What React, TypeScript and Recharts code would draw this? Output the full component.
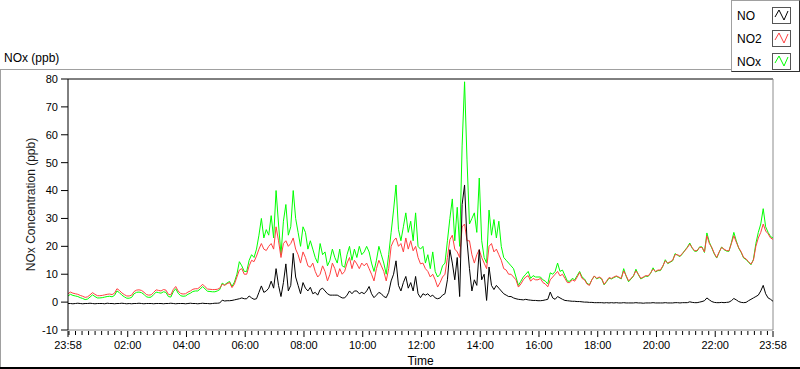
import React from "react";
import { LineChart, Line, XAxis, YAxis, ReferenceLine, Legend } from "recharts";

// samples every 5 min, starting 23:58 (t = 0) and ending 23:58 next day (t = 1440)
// each row below is one clock hour: hh:03, hh:08 ... hh:58
const STEP_MIN = 5;

const NO2 = [
  3.0,
  3.6, 3.2, 3.0, 2.8, 2.4, 2.1, 1.7, 1.9, 2.6, 3.4, 2.8, 2.3,
  2.3, 2.4, 2.6, 2.8, 2.9, 2.7, 3.2, 4.8, 4.2, 3.3, 2.7, 2.2,
  2.2, 2.5, 3.8, 4.3, 4.4, 4.2, 3.6, 2.7, 2.5, 2.6, 3.5, 4.4,
  4.2, 4.0, 4.5, 4.3, 2.8, 2.6, 4.5, 5.6, 4.0, 3.1, 2.9, 3.0,
  3.6, 4.0, 4.6, 4.8, 4.8, 5.5, 6.4, 5.5, 4.7, 4.6, 4.5, 4.5,
  4.6, 5.0, 6.4, 6.0, 6.6, 7.0, 5.2, 6.5, 9.0, 11.5, 12, 10,
  10, 13, 15, 14.5, 16.5, 19, 21, 19, 18.5, 20, 21, 19,
  27, 22, 16, 21, 22, 20, 21, 23, 19, 17, 14, 18,
  16, 13, 12.5, 14, 11, 9, 10, 13, 11, 7.6, 10, 14,
  12, 9, 12, 10, 11, 14, 16, 12, 15, 13.7, 12, 14,
  13, 14, 12, 10, 7.6, 12, 15, 13, 11, 7.6, 12, 20,
  22, 23, 20, 21, 18, 23, 19, 22, 18.4, 20, 16, 13.7,
  14, 12, 11, 9, 10, 8, 5.4, 7, 9, 10, 16, 22.4,
  24, 19, 18, 16, 27, 28, 22, 22, 17, 14, 17, 18.8,
  16, 14, 12, 20, 21, 18, 19, 17, 15, 12, 11.5, 10,
  10, 9, 8, 5.4, 6.5, 8, 9, 9.5, 7.5, 8.5, 8, 8,
  8.5, 7, 6.5, 5.5, 8, 9, 10, 11, 9.4, 10, 8.5, 7,
  7, 8, 7.5, 9, 10.6, 8.5, 8, 6.5, 6, 8, 9.4, 8.5,
  9.0, 8.5, 6.4, 7.5, 8.8, 8.5, 9.0, 9.4, 9.0, 8.5, 11.2, 9.5,
  7.6, 8.5, 9.5, 11.2, 10, 8.5, 9, 9.5, 9.4, 10.5, 11.8, 11,
  11.5, 11.5, 13, 14.8, 14, 14.5, 15, 17, 17, 16.5, 17.5, 18.4,
  19.5, 20.8, 19.5, 18.4, 18.5, 19.6, 19.6, 18, 23.8, 21, 19.6, 17.5,
  16, 18, 19.6, 19, 18.5, 18.4, 21, 23.8, 21.5, 19.5, 18, 16,
  15.5, 14.5, 13.6, 15, 20, 23, 25, 28, 25.5, 24.5, 23, 22.5,
];

const NOX = [
  2.2,
  2.8, 2.4, 2.2, 2.0, 1.6, 1.3, 0.9, 1.1, 1.8, 2.6, 2.0, 1.5,
  1.5, 1.6, 1.8, 2.0, 2.1, 1.9, 2.4, 4.0, 3.4, 2.5, 1.9, 1.4,
  1.4, 1.7, 3.0, 3.5, 3.6, 3.4, 2.8, 1.9, 1.7, 1.8, 2.7, 3.6,
  3.4, 3.2, 3.7, 3.5, 2.0, 1.8, 3.7, 4.8, 3.2, 2.3, 2.1, 2.2,
  2.8, 3.2, 3.8, 4.0, 4.0, 4.7, 5.6, 4.7, 3.9, 3.8, 3.7, 3.7,
  4.0, 4.5, 6.8, 6.2, 6.9, 7.4, 5.6, 7.2, 10, 14.5, 13, 11,
  11, 15, 17, 16, 19, 24, 30, 23, 26, 24, 31, 23,
  40, 28, 17, 29, 35, 24, 27, 40, 30, 25, 20, 27,
  25, 19, 22, 19, 16, 14, 21, 17, 18, 13, 15, 19,
  16, 14, 19, 13, 12.5, 17, 20, 15, 19, 16, 20, 17,
  18, 20, 18, 14, 11, 15, 20, 17, 14, 10, 17, 25,
  33, 42, 26, 22, 27, 32, 25, 29, 22, 32, 20, 19,
  20, 14, 17, 12, 18, 11, 9, 10, 13, 14, 22, 30,
  37, 22, 34, 20, 56, 79, 51, 28, 30, 32, 25, 44.5,
  22, 16, 14, 33, 24, 29.6, 23, 29, 20, 16, 15, 14,
  13, 12, 9, 6, 7.5, 9, 10, 11, 8.5, 9.5, 9, 9,
  9, 8, 7.5, 6.5, 10.5, 10, 11, 14, 11, 11.5, 9.5, 7.5,
  7.5, 8.5, 8, 9.5, 11, 9, 8.3, 6.8, 6.2, 8, 9.3, 8.3,
  8.8, 8.3, 6.2, 7.3, 8.6, 8.3, 8.8, 9.2, 8.8, 8.3, 12, 9.3,
  7.3, 8.3, 9.3, 11.8, 9.8, 8.3, 8.8, 9.3, 9.2, 10.3, 12.3, 10.8,
  11.3, 11.3, 12.8, 15.2, 13.8, 14.3, 14.8, 17.4, 16.8, 16.3, 17.3, 18.6,
  19.7, 21.2, 19.3, 18.2, 18.3, 19.8, 19.8, 17.8, 24.8, 21.5, 19.4, 17.3,
  15.8, 17.8, 19.8, 18.8, 18.3, 18.2, 21.3, 25, 22, 19.3, 17.8, 15.8,
  15.3, 14.3, 13.4, 15.3, 21, 25, 28, 33.5, 27, 25, 23.5, 23,
];

const NO = [
  -0.5,
  -0.5, -0.6, -0.5, -0.4, -0.5, -0.6, -0.5, -0.5, -0.4, -0.5, -0.6, -0.5,
  -0.5, -0.5, -0.6, -0.4, -0.5, -0.5, -0.6, -0.5, -0.5, -0.4, -0.5, -0.6,
  -0.5, -0.6, -0.5, -0.5, -0.4, -0.5, -0.6, -0.5, -0.5, -0.5, -0.6, -0.5,
  -0.5, -0.5, -0.6, -0.5, -0.5, -0.4, -0.5, -0.6, -0.5, -0.5, -0.5, -0.6,
  -0.5, -0.4, -0.5, -0.5, -0.6, -0.5, -0.4, -0.5, -0.5, -0.6, -0.5, -0.4,
  -0.4, -0.3, 0.7, 0.4, 0.5, 0.5, 0.6, 0.8, 1.0, 1.2, 1.5, 1.2,
  1.2, 2.2, 1.5, 1.0, 1.2, 3.5, 5.8, 3.5, 4.0, 5, 7.5, 5,
  12, 6, 2, 7, 13.7, 4, 6, 17.5, 9, 6, 3, 7,
  5, 4, 5.3, 3, 3.5, 2.5, 4.5, 5, 4, 3, 2.5, 2.5,
  2.5, 2.5, 2, 1.5, 1.5, 2.5, 4, 3, 4, 4, 3, 3.5,
  3, 4, 5.6, 3, 1.6, 2.5, 3.5, 3, 2, 1.6, 3.5, 7.6,
  10, 14.8, 6, 4, 7, 9.2, 5, 7, 4, 9.2, 3, 1.6,
  3, 2.5, 3, 2, 2.5, 1.5, 1.2, 1.5, 2.5, 3, 8, 18.8,
  14, 8, 16, 2, 35, 42, 22, 12, 4, 8, 6, 18.8,
  8, 10, 0.6, 12.6, 6, 4.5, 6, 5, 4, 3, 2.5, 2,
  2, 1.5, 1.2, 1, 0.9, 0.8, 1, 0.8, 0.7, 0.6, 0.6, 0.5,
  0.5, 0.6, 0.8, 1, 3.6, 1.5, 1, 2, 1.5, 1, 0.6, 0.5,
  0.4, 0.3, 0.3, 0.2, 0.2, 0.1, 0, 0, -0.1, -0.1, -0.2, -0.2,
  -0.2, -0.2, -0.3, -0.2, -0.3, -0.2, -0.3, -0.2, -0.3, -0.3, -0.2, -0.3,
  -0.3, -0.3, -0.3, -0.2, -0.3, -0.3, -0.4, -0.3, -0.3, -0.3, -0.2, -0.3,
  -0.3, -0.3, -0.3, -0.2, -0.3, -0.3, -0.3, -0.2, -0.2, -0.3, -0.2, -0.2,
  -0.2, 0.1, -0.1, -0.2, -0.2, 0, 0.2, 0.5, 1.5, 0.8, 0.2, -0.1,
  -0.2, -0.2, -0.1, -0.2, -0.1, 0, 0.5, 1.3, 0.8, 0.2, -0.1, -0.2,
  -0.1, 0.5, 1.0, 1.5, 2.0, 2.5, 4, 6, 3, 1.5, 1.0, 0.3,
];

// x tick positions (minutes after 23:58) and their labels
const MAJOR_TICKS = [0, 122, 242, 362, 482, 602, 722, 842, 962, 1082, 1202, 1322, 1440];
const MAJOR_LABELS = ["23:58", "02:00", "04:00", "06:00", "08:00", "10:00", "12:00", "14:00", "16:00", "18:00", "20:00", "22:00", "23:58"];
const Y_TICKS = [-10, 0, 10, 20, 30, 40, 50, 60, 70, 80];

const SERIES = [
  { key: "no", name: "NO", color: "#000000" },
  { key: "no2", name: "NO2", color: "#ff4040" },
  { key: "nox", name: "NOx", color: "#00ff00" },
];

const FONT = "'Liberation Sans', Arial, sans-serif";

const rows = NO2.map((v, i) => ({ t: i * STEP_MIN, no: NO[i], no2: v, nox: NOX[i] }));

// minor ticks: 8 between every pair of 2h labels
const minorTicks: number[] = [];
for (let m = 122; m < 1440; m += 120) {
  for (let k = -9; k <= 9; k++) {
    const v = Math.round((m + (k * 120) / 9) * 100) / 100;
    if (k !== 0 && v > 1 && v < 1439 && !minorTicks.includes(v)) minorTicks.push(v);
  }
}
const X_TICKS = [...MAJOR_TICKS, ...minorTicks.filter((v) => !MAJOR_TICKS.some((m) => Math.abs(m - v) < 2))].sort((a, b) => a - b);

function XTick(props: any) {
  const { x, y, payload } = props;
  const idx = MAJOR_TICKS.indexOf(payload.value);
  const major = idx >= 0;
  return (
    <g>
      <line x1={x} x2={x} y1={y + 1} y2={y + (major ? 7 : 5)} stroke="#000" />
      {major && (
        <text x={x} y={y + 19} textAnchor="middle" fontSize={11} fill="#000" fontFamily={FONT}>
          {MAJOR_LABELS[idx]}
        </text>
      )}
    </g>
  );
}

function Swatch({ color }: { color: string }) {
  return (
    <svg width={19} height={17} style={{ display: "block" }}>
      <rect x={0.5} y={0.5} width={18} height={16} fill="#fff" stroke="#555" />
      <polyline points="3,10 7,3 12,13 16,4" fill="none" stroke={color} strokeWidth={1} />
    </svg>
  );
}

function LegendBox() {
  return (
    <div
      style={{
        width: 69,
        height: 72,
        boxSizing: "border-box",
        background: "#fff",
        borderLeft: "1px solid #a0a0a0",
        borderTop: "1px solid #a0a0a0",
        borderRight: "1px solid #303030",
        borderBottom: "1px solid #303030",
        paddingTop: 3,
        fontFamily: FONT,
        fontSize: 12,
        color: "#000",
      }}
    >
      {SERIES.map((s) => (
        <div key={s.key} style={{ display: "flex", alignItems: "center", height: 23 }}>
          <span style={{ width: 35, paddingLeft: 5 }}>{s.name}</span>
          <Swatch color={s.color} />
        </div>
      ))}
    </div>
  );
}

export default function App() {
  return (
    <div style={{ position: "absolute", left: 0, top: 0, width: 800, height: 369, background: "#fff", fontFamily: FONT }}>
      {/* panel frame */}
      <div style={{ position: "absolute", left: 0, top: 69, width: 731, height: 1, background: "#a0a0a0" }} />
      <div style={{ position: "absolute", left: 0, top: 69, width: 1, height: 299, background: "#a0a0a0" }} />
      <div style={{ position: "absolute", left: 0, top: 367, width: 800, height: 2, background: "#000" }} />
      <div style={{ position: "absolute", left: 4, top: 51, fontSize: 12, color: "#000" }}>NOx (ppb)</div>

      <LineChart width={800} height={369} data={rows} margin={{ top: 79, right: 27, bottom: 0, left: 0 }}>
        <XAxis
          dataKey="t"
          type="number"
          domain={[0, 1440]}
          ticks={X_TICKS}
          interval={0}
          height={39}
          tickSize={0}
          tickMargin={0}
          tickLine={false}
          axisLine={{ stroke: "#8c8c8c" }}
          tick={<XTick />}
          label={{ value: "Time", position: "insideBottom", offset: 4, fill: "#000", fontSize: 12, fontFamily: FONT }}
        />
        <YAxis
          type="number"
          domain={[-10, 80]}
          ticks={Y_TICKS}
          interval={0}
          width={68}
          allowDataOverflow
          tickSize={7}
          tickMargin={3}
          axisLine={{ stroke: "#000" }}
          tickLine={{ stroke: "#000" }}
          tick={{ fill: "#000", fontSize: 11, fontFamily: FONT }}
          label={{
            value: "NOx Concentration (ppb)",
            angle: -90,
            position: "insideLeft",
            offset: 31,
            fill: "#1a1a1a",
            fontSize: 12,
            fontFamily: FONT,
            style: { textAnchor: "middle" },
          }}
        />
        <ReferenceLine y={80} stroke="#000" />
        <ReferenceLine x={1440} stroke="#8c8c8c" />
        <Line dataKey="nox" name="NOx" stroke="#00ff00" strokeWidth={1} dot={false} type="linear" isAnimationActive={false} />
        <Line dataKey="no2" name="NO2" stroke="#ff4040" strokeWidth={1} dot={false} type="linear" isAnimationActive={false} />
        <Line dataKey="no" name="NO" stroke="#000000" strokeWidth={1} dot={false} type="linear" isAnimationActive={false} />
        <Legend
          layout="vertical"
          align="center"
          verticalAlign="middle"
          content={() => <LegendBox />}
          wrapperStyle={{ position: "absolute", left: 731, top: 0, width: 69, height: 72 }}
        />
      </LineChart>
    </div>
  );
}
